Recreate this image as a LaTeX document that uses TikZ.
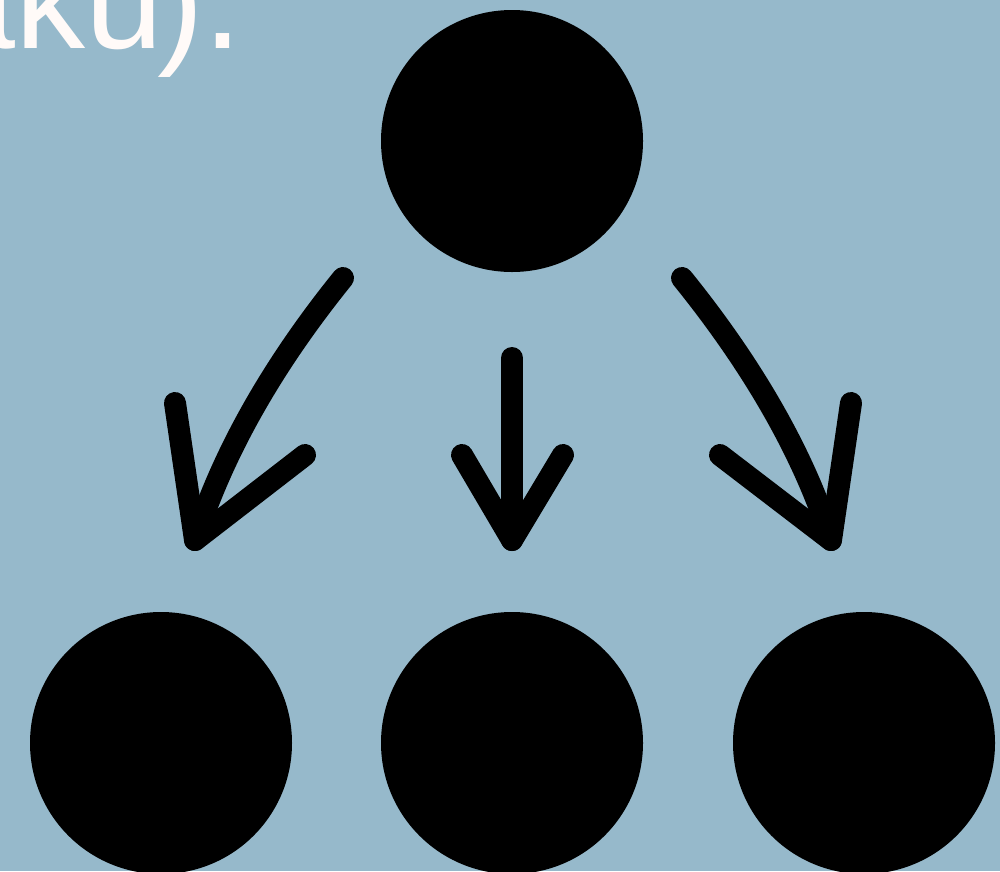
\documentclass[tikz,border=0pt]{standalone}
\usepackage{fontspec}
\setmainfont{Liberation Sans}
\definecolor{bgblue}{HTML}{96B9CB}
\definecolor{txtwhite}{HTML}{FFFAF8}
\begin{document}
\begin{tikzpicture}[x=1pt,y=-1pt,
  dot/.style={circle,fill=black,inner sep=0pt,minimum size=262pt},
  arr/.style={line width=22pt,line cap=round,line join=round,draw=black},
  caption/.style={text=txtwhite,font=\fontsize{140}{140}\selectfont,inner sep=0pt}]
  \fill[bgblue] (0,0) rectangle (1000,871);
  \useasboundingbox (0,0) rectangle (1000,871);
  \node[caption,anchor=base east] (txt) at (243,48) {aku\kern-6pt).};
  \node[dot] (top) at (512,141) {};
  \node[dot] (bl) at (161,743) {};
  \node[dot] (bm) at (512,743) {};
  \node[dot] (br) at (864,743) {};
  % left arrow
  \coordinate (ls) at (343,278);
  \coordinate (lt) at (195,540);
  \coordinate (la) at (175,403);
  \coordinate (lb) at (305,455);
  \draw[arr] (ls) .. controls (271,367) and (222,455) .. (lt);
  \draw[arr] (la) -- (lt) -- (lb);
  % middle arrow
  \coordinate (ms) at (512,358);
  \coordinate (mt) at (512,540);
  \coordinate (ma) at (462,455);
  \coordinate (mb) at (563,455);
  \draw[arr] (ms) -- (mt);
  \draw[arr] (ma) -- (mt) -- (mb);
  % right arrow
  \coordinate (rs) at (682,278);
  \coordinate (rt) at (831,540);
  \coordinate (ra) at (851,403);
  \coordinate (rb) at (720,455);
  \draw[arr] (rs) .. controls (754,367) and (804,455) .. (rt);
  \draw[arr] (ra) -- (rt) -- (rb);
\end{tikzpicture}
\end{document}
